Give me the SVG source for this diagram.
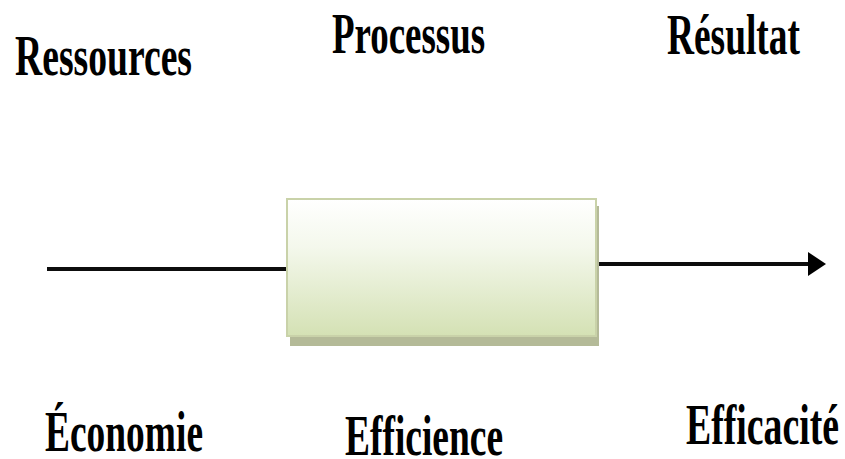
<svg xmlns="http://www.w3.org/2000/svg" width="845" height="459" viewBox="0 0 845 459">
  <style>
    .lbl { font-family: "Liberation Serif", "Times New Roman", serif; font-weight: bold; font-size: 57px; fill: #000; }
    .flow { stroke: #0d0d0d; stroke-width: 4; fill: none; }
  </style>
  <defs>
    <linearGradient id="boxFill" x1="0" y1="0" x2="0" y2="1">
      <stop offset="0" stop-color="#ffffff"/>
      <stop offset="0.35" stop-color="#f4f8ec"/>
      <stop offset="1" stop-color="#d4e1b4"/>
    </linearGradient>
  </defs>

  <rect width="845" height="459" fill="#fff"/>

  <g id="connectors">
    <line class="flow" x1="47" y1="269" x2="288" y2="269"/>
    <line class="flow" x1="596" y1="264" x2="810" y2="264"/>
    <path d="M808,252 L826,264 L808,276 Z" fill="#000"/>
  </g>

  <g id="process-box">
    <rect x="290" y="206" width="309" height="140" fill="#b4ba98"/>
    <rect x="287" y="199" width="309" height="137" fill="url(#boxFill)" stroke="#c9d2a9" stroke-width="2"/>
  </g>

  <g id="label-ressources">
    <text class="lbl" x="15" y="75" textLength="177" lengthAdjust="spacingAndGlyphs">Ressources</text>
  </g>
  <g id="label-processus">
    <text class="lbl" x="332" y="53" textLength="153" lengthAdjust="spacingAndGlyphs">Processus</text>
  </g>
  <g id="label-resultat">
    <text class="lbl" x="667" y="54" textLength="133" lengthAdjust="spacingAndGlyphs">Résultat</text>
  </g>
  <g id="label-economie">
    <text class="lbl" x="45" y="451" textLength="158" lengthAdjust="spacingAndGlyphs">Économie</text>
  </g>
  <g id="label-efficience">
    <text class="lbl" x="345" y="455" textLength="158" lengthAdjust="spacingAndGlyphs">Efficience</text>
  </g>
  <g id="label-efficacite">
    <text class="lbl" x="686" y="444" textLength="153" lengthAdjust="spacingAndGlyphs">Efficacité</text>
  </g>
</svg>
